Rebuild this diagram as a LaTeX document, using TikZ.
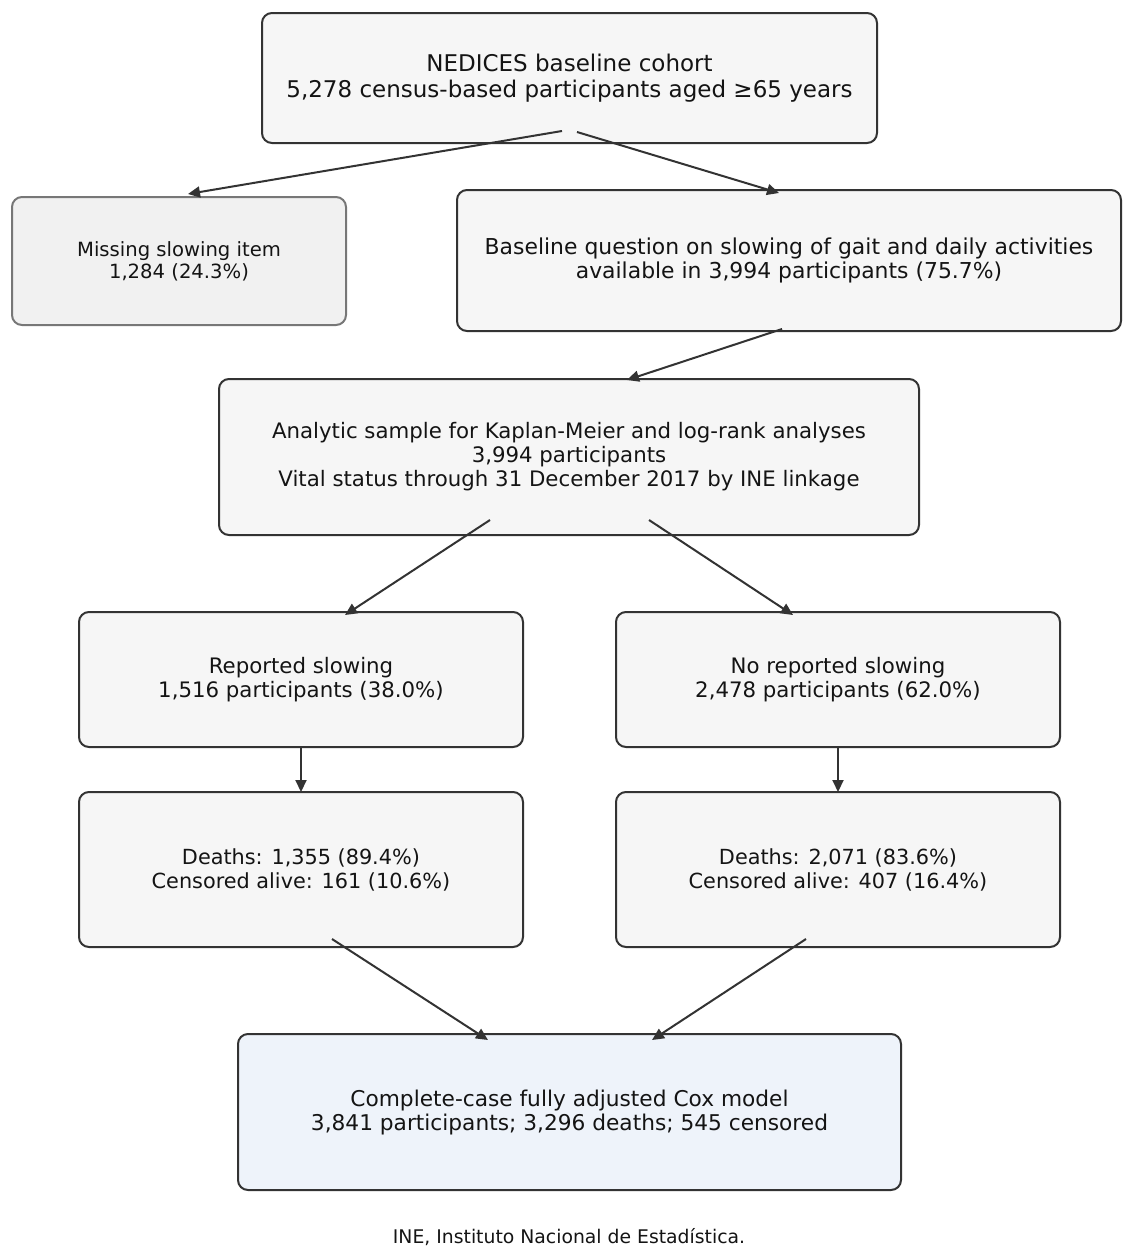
\documentclass[tikz,border=0pt]{standalone}
\usepackage{fontspec}
\setmainfont{DejaVu Sans}
\usetikzlibrary{arrows.meta}
\definecolor{edge}{HTML}{333333}
\definecolor{boxfill}{HTML}{F6F6F6}
\definecolor{missfill}{HTML}{F1F1F1}
\definecolor{missedge}{HTML}{777777}
\definecolor{coxfill}{HTML}{EEF3FA}
\tikzset{
  box/.style={draw=edge, fill=boxfill, line width=2pt, rounded corners=10pt, align=center, inner sep=0pt, font=\fontsize{21.3}{24}\selectfont, text=black!92},
  missbox/.style={box, draw=missedge, fill=missfill, font=\fontsize{19.6}{22}\selectfont},
  topbox/.style={box, font=\fontsize{23}{26}\selectfont},
  coxbox/.style={box, fill=coxfill},
  flow/.style={draw=edge, line width=2pt, -{Triangle[length=12pt,width=11pt]}},
}
\begin{document}
\begin{tikzpicture}[x=1pt,y=-1pt]
\useasboundingbox (0,0) rectangle (1134,1258);
\node[topbox, minimum width=615pt, minimum height=130pt] (top) at (569.5,78) {NEDICES baseline cohort\\5,278 census-based participants aged ≥65 years};
\node[missbox, minimum width=334pt, minimum height=128pt] (miss) at (179,261) {Missing slowing item\\1,284 (24.3\%)};
\node[box, minimum width=664pt, minimum height=141pt, font=\fontsize{21.9}{24}\selectfont] (base) at (789,260.5) {Baseline question on slowing of gait and daily activities\\available in 3,994 participants (75.7\%)};
\node[box, minimum width=700pt, minimum height=156pt] (anal) at (569,457) {Analytic sample for Kaplan-Meier and log-rank analyses\\3,994 participants\\Vital status through 31 December 2017 by INE linkage};
\node[box, minimum width=444pt, minimum height=135pt] (rep) at (301,679.5) {Reported slowing\\1,516 participants (38.0\%)};
\node[box, minimum width=444pt, minimum height=135pt] (norep) at (838,679.5) {No reported slowing\\2,478 participants (62.0\%)};
\node[box, minimum width=444pt, minimum height=155pt, font=\fontsize{20.8}{24}\selectfont] (dl) at (301,869.5) {Deaths: 1,355 (89.4\%)\\Censored alive: 161 (10.6\%)};
\node[box, minimum width=444pt, minimum height=155pt, font=\fontsize{20.8}{24}\selectfont] (dr) at (838,869.5) {Deaths: 2,071 (83.6\%)\\Censored alive: 407 (16.4\%)};
\node[coxbox, minimum width=663pt, minimum height=156pt, font=\fontsize{21.7}{24}\selectfont] (cox) at (569.5,1112) {Complete-case fully adjusted Cox model\\3,841 participants; 3,296 deaths; 545 censored};
\node[font=\fontsize{18.8}{22}\selectfont, text=black!92] (note) at (569,1237) {INE, Instituto Nacional de Estadística.};
% connector end points
\coordinate (t1) at (562,131);
\coordinate (t2) at (577,132);
\coordinate (m1) at (188,194);
\coordinate (b1) at (779,193);
\coordinate (b2) at (782,329);
\coordinate (a1) at (627,380);
\coordinate (a2) at (490,520);
\coordinate (a3) at (649,520);
\coordinate (r1) at (345,615);
\coordinate (n1) at (793,615);
\coordinate (r2) at (301,747);
\coordinate (dl1) at (301,792);
\coordinate (n2) at (838,747);
\coordinate (dr1) at (838,792);
\coordinate (dl2) at (332,939);
\coordinate (dr2) at (806,939);
\coordinate (c1) at (488,1040);
\coordinate (c2) at (652,1040);
\draw[flow] (t1) -- (m1);
\draw[flow] (t2) -- (b1);
\draw[flow] (b2) -- (a1);
\draw[flow] (a2) -- (r1);
\draw[flow] (a3) -- (n1);
\draw[flow] (r2) -- (dl1);
\draw[flow] (n2) -- (dr1);
\draw[flow] (dl2) -- (c1);
\draw[flow] (dr2) -- (c2);
\end{tikzpicture}
\end{document}
